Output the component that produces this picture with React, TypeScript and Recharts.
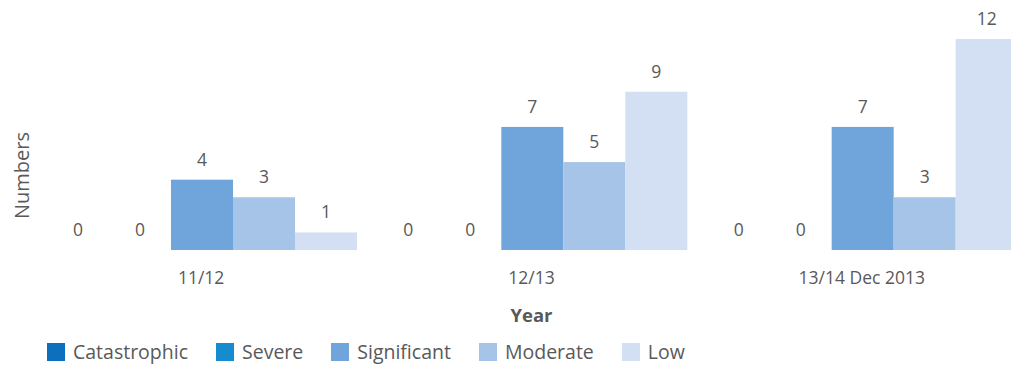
import { Bar, BarChart, XAxis, YAxis } from 'recharts';

const years = ['11/12', '12/13', '13/14 Dec 2013'];
const catastrophic = [0, 0, 0];
const severe = [0, 0, 0];
const significant = [4, 7, 7];
const moderate = [3, 5, 3];
const low = [1, 9, 12];

const series = [
  { key: 'Catastrophic', values: catastrophic, color: '#0c70bf' },
  { key: 'Severe', values: severe, color: '#168bd0' },
  { key: 'Significant', values: significant, color: '#6fa5da' },
  { key: 'Moderate', values: moderate, color: '#a6c3e8' },
  { key: 'Low', values: low, color: '#d3dff2' }
];

const data = years.map((year, i) => {
  const row: Record<string, string | number> = { year };
  series.forEach((s) => {
    row[s.key] = s.values[i];
  });
  return row;
});

const textColor = '#595959';

// bar rect plus its value label, so zero bars still get a "0"
function renderBar(props: any, key: string, color: string) {
  const { x, y, width, height, payload } = props;
  const v = payload ? payload[key] : props.value;
  return (
    <g>
      {height > 0 && <rect x={x} y={y} width={width} height={height} fill={color} />}
      <text x={x + width / 2} y={y - 14} textAnchor='middle' fontSize={17.5} fill={textColor}>
        {v}
      </text>
    </g>
  );
}

function NumbersLabel(props: any) {
  const { viewBox } = props;
  const cx = viewBox.x + 21;
  const cy = viewBox.y + viewBox.height / 2 + 31;
  return (
    <text
      x={cx}
      y={cy}
      transform={`rotate(-90, ${cx}, ${cy})`}
      textAnchor='middle'
      dominantBaseline='central'
      fontSize={20}
      fill={textColor}
    >
      Numbers
    </text>
  );
}

function LegendRow() {
  return (
    <div style={{ position: 'absolute', left: 47, top: 340, display: 'flex', alignItems: 'center', height: 24 }}>
      {series.map((s) => (
        <div key={s.key} style={{ display: 'flex', alignItems: 'center', marginRight: 28 }}>
          <span style={{ width: 18, height: 18, background: s.color, display: 'inline-block', marginRight: 8 }} />
          <span style={{ fontSize: 19.5, color: textColor, lineHeight: '24px', whiteSpace: 'nowrap' }}>{s.key}</span>
        </div>
      ))}
    </div>
  );
}

export default function App() {
  return (
    <div
      style={{
        position: 'fixed',
        left: 0,
        top: 0,
        width: 1011,
        height: 367,
        overflow: 'hidden',
        fontFamily: '"Open Sans", sans-serif',
        background: '#fff'
      }}
    >
      <BarChart
        width={1030}
        height={367}
        data={data}
        margin={{ top: 39, right: 3, bottom: 27, left: 0 }}
        barCategoryGap={11}
        barGap={0}
      >
        <XAxis
          dataKey='year'
          height={90}
          axisLine={false}
          tickLine={false}
          tickMargin={16}
          tick={{ fontSize: 17.5, fill: textColor }}
          interval={0}
          label={{
            value: 'Year',
            position: 'insideBottom',
            offset: 18,
            style: { fontSize: 18.5, fontWeight: 700, fill: textColor }
          }}
        />
        <YAxis
          width={36}
          domain={[0, 12]}
          axisLine={false}
          tickLine={false}
          tick={false}
          label={<NumbersLabel />}
        />
        {series.map((s) => (
          <Bar
            key={s.key}
            dataKey={s.key}
            fill={s.color}
            isAnimationActive={false}
            shape={(p: any) => renderBar(p, s.key, s.color)}
          />
        ))}
      </BarChart>
      <LegendRow />
    </div>
  );
}
